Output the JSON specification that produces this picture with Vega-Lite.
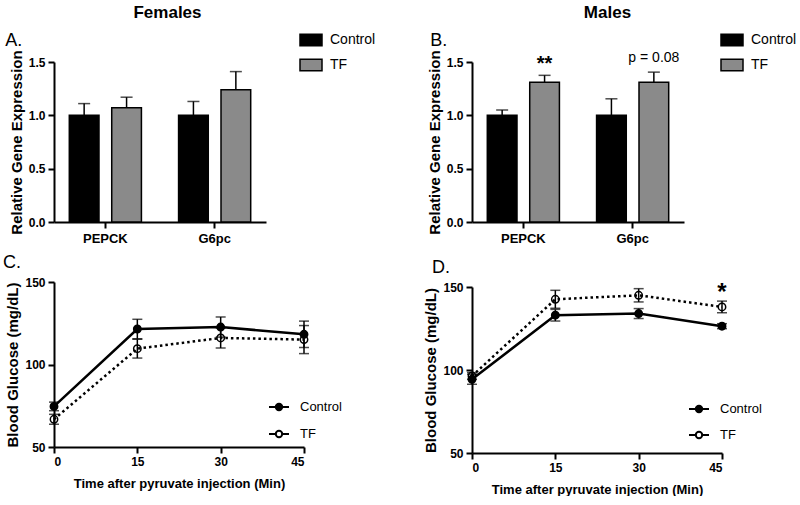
{
  "$schema": "https://vega.github.io/schema/vega-lite/v6.json",
  "background": "white",
  "padding": {"left": 2, "top": 4, "right": 0, "bottom": 0},
  "config": {
    "font": "Liberation Sans",
    "view": {"stroke": null},
    "axis": {"domainColor": "black", "domainWidth": 2, "tickColor": "black", "tickWidth": 2, "tickSize": 6, "labelColor": "black", "labelFontWeight": "bold", "labelFontSize": 12, "titleFontWeight": "bold", "titleFontSize": 13, "titleColor": "black", "grid": false, "labelPadding": 3, "titlePadding": 8},
    "axisY": {"titleFontSize": 15, "titlePadding": 4},
    "legend": {"labelFontSize": 14, "labelColor": "black", "padding": 0},
    "title": {"color": "black"}
  },
  "resolve": {"scale": {"fill": "independent"}, "legend": {"fill": "independent"}},
  "spacing": 47,
  "hconcat": [
    {
      "title": {"text": "Females", "anchor": "middle", "fontSize": 17, "fontWeight": "bold", "offset": 6, "dx": -22},
      "spacing": 9,
      "resolve": {"scale": {"fill": "independent"}, "legend": {"fill": "independent"}},
      "vconcat": [
        {
          "title": {"text": "A.", "anchor": "start", "frame": "bounds", "fontSize": 18, "fontWeight": "normal", "offset": -22, "dx": -4},
          "width": 212,
          "height": 160,
          "data": {"values": [
            {"gene": "PEPCK", "group": "Control", "mean": 1.0, "upper": 1.11},
            {"gene": "PEPCK", "group": "TF", "mean": 1.07, "upper": 1.17},
            {"gene": "G6pc", "group": "Control", "mean": 1.0, "upper": 1.13},
            {"gene": "G6pc", "group": "TF", "mean": 1.24, "upper": 1.41}
          ]},
          "encoding": {
            "x": {"field": "gene", "type": "nominal", "sort": ["PEPCK", "G6pc"], "scale": {"paddingInner": 0.34, "paddingOuter": 0.14}, "axis": {"title": null, "labelAngle": 0, "labelFontSize": 13, "labelPadding": 4}},
            "xOffset": {"field": "group", "type": "nominal", "sort": ["Control", "TF"], "scale": {"paddingInner": 0.3, "paddingOuter": 0}}
          },
          "layer": [
            {
              "mark": {"type": "bar", "stroke": "black", "strokeWidth": 1.5},
              "encoding": {
                "y": {"field": "mean", "type": "quantitative", "scale": {"domain": [0, 1.5], "padding": 0, "nice": false}, "axis": {"title": "Relative Gene Expression", "values": [0, 0.5, 1, 1.5], "format": ".1f"}},
                "fill": {"field": "group", "type": "nominal", "scale": {"domain": ["Control", "TF"], "range": ["black", "#8a8a8a"]}, "legend": {"title": null, "orient": "none", "legendX": 245, "legendY": -34, "symbolType": "M-1,-0.52H1V0.52H-1Z", "symbolSize": 484, "symbolStrokeColor": "black", "symbolStrokeWidth": 1.5, "labelOffset": 7, "rowPadding": 4}}
              }
            },
            {
              "mark": {"type": "rule", "color": "black", "strokeWidth": 1.5},
              "encoding": {"y": {"field": "mean", "type": "quantitative", "title": "Relative Gene Expression"}, "y2": {"field": "upper"}}
            },
            {
              "mark": {"type": "tick", "orient": "horizontal", "size": 12, "thickness": 1.5, "color": "black"},
              "encoding": {"y": {"field": "upper", "type": "quantitative", "title": "Relative Gene Expression"}}
            }
          ]
        },
        {
          "title": {"text": "C.", "anchor": "start", "frame": "bounds", "fontSize": 18, "fontWeight": "normal", "offset": 4, "dx": -3},
          "width": 250,
          "height": 165,
          "data": {"values": [
            {"t": 0, "group": "Control", "mean": 74.6, "lo": 72.0, "hi": 77.2},
            {"t": 15, "group": "Control", "mean": 121.5, "lo": 115.6, "hi": 127.4},
            {"t": 30, "group": "Control", "mean": 122.7, "lo": 116.6, "hi": 128.8},
            {"t": 45, "group": "Control", "mean": 118.3, "lo": 110.3, "hi": 126.3},
            {"t": 0, "group": "TF", "mean": 66.8, "lo": 63.8, "hi": 69.8},
            {"t": 15, "group": "TF", "mean": 109.6, "lo": 103.9, "hi": 115.3},
            {"t": 30, "group": "TF", "mean": 116.1, "lo": 110.0, "hi": 122.2},
            {"t": 45, "group": "TF", "mean": 115.1, "lo": 106.6, "hi": 123.6}
          ]},
          "encoding": {
            "x": {"field": "t", "type": "quantitative", "scale": {"domain": [0, 45], "nice": false, "padding": 0}, "axis": {"values": [0, 15, 30, 45], "title": "Time after pyruvate injection (Min)", "titlePadding": 10}}
          },
          "layer": [
            {
              "mark": {"type": "rule", "color": "black", "strokeWidth": 1.5},
              "encoding": {"y": {"field": "lo", "type": "quantitative", "scale": {"domain": [50, 150], "padding": 0, "nice": false}, "axis": {"title": "Blood Glucose (mg/dL)", "values": [50, 100, 150]}}, "y2": {"field": "hi"}}
            },
            {
              "mark": {"type": "tick", "orient": "horizontal", "size": 10, "thickness": 1.5, "color": "black"},
              "encoding": {"y": {"field": "lo", "type": "quantitative", "title": "Blood Glucose (mg/dL)"}}
            },
            {
              "mark": {"type": "tick", "orient": "horizontal", "size": 10, "thickness": 1.5, "color": "black"},
              "encoding": {"y": {"field": "hi", "type": "quantitative", "title": "Blood Glucose (mg/dL)"}}
            },
            {
              "transform": [{"filter": "datum.group === 'Control'"}],
              "mark": {"type": "line", "color": "black", "strokeWidth": 2.5},
              "encoding": {"y": {"field": "mean", "type": "quantitative", "title": "Blood Glucose (mg/dL)"}}
            },
            {
              "transform": [{"filter": "datum.group === 'TF'"}],
              "mark": {"type": "line", "color": "black", "strokeWidth": 2.5, "strokeDash": [2.5, 3]},
              "encoding": {"y": {"field": "mean", "type": "quantitative", "title": "Blood Glucose (mg/dL)"}}
            },
            {
              "mark": {"type": "point", "shape": "circle", "filled": true, "size": 55, "stroke": "black", "strokeWidth": 1.5, "opacity": 1},
              "encoding": {
                "y": {"field": "mean", "type": "quantitative", "title": "Blood Glucose (mg/dL)"},
                "fill": {"field": "group", "type": "nominal", "scale": {"domain": ["Control", "TF"], "range": ["black", "transparent"]}, "legend": {"title": null, "orient": "none", "legendX": 214, "legendY": 114, "symbolType": "M-1,0H-0.32M0.32,0H1M0.32,0A0.32,0.32,0,1,1,-0.32,0A0.32,0.32,0,1,1,0.32,0", "symbolSize": 400, "symbolStrokeColor": "black", "symbolStrokeWidth": 2, "labelOffset": 10, "labelFontSize": 13, "rowPadding": 8, "encode": {"symbols": {"update": {"strokeDash": {"signal": "datum.value === 'TF' ? [2, 2] : [1, 0]"}}}}}}
              }
            }
          ]
        }
      ]
    },
    {
      "title": {"text": "Males", "anchor": "middle", "fontSize": 17, "fontWeight": "bold", "offset": 6, "dx": -3},
      "spacing": 14,
      "resolve": {"scale": {"fill": "independent"}, "legend": {"fill": "independent"}},
      "vconcat": [
        {
          "title": {"text": "B.", "anchor": "start", "frame": "bounds", "fontSize": 18, "fontWeight": "normal", "offset": -22, "dx": 3},
          "width": 212,
          "height": 160,
          "data": {"values": [
            {"gene": "PEPCK", "group": "Control", "mean": 1.0, "upper": 1.05},
            {"gene": "PEPCK", "group": "TF", "mean": 1.31, "upper": 1.375},
            {"gene": "G6pc", "group": "Control", "mean": 1.0, "upper": 1.155},
            {"gene": "G6pc", "group": "TF", "mean": 1.31, "upper": 1.405}
          ]},
          "encoding": {
            "x": {"field": "gene", "type": "nominal", "sort": ["PEPCK", "G6pc"], "scale": {"paddingInner": 0.34, "paddingOuter": 0.14}, "axis": {"title": null, "labelAngle": 0, "labelFontSize": 13, "labelPadding": 4}},
            "xOffset": {"field": "group", "type": "nominal", "sort": ["Control", "TF"], "scale": {"paddingInner": 0.3, "paddingOuter": 0}}
          },
          "layer": [
            {
              "mark": {"type": "bar", "stroke": "black", "strokeWidth": 1.5},
              "encoding": {
                "y": {"field": "mean", "type": "quantitative", "scale": {"domain": [0, 1.5], "padding": 0, "nice": false}, "axis": {"title": "Relative Gene Expression", "values": [0, 0.5, 1, 1.5], "format": ".1f"}},
                "fill": {"field": "group", "type": "nominal", "scale": {"domain": ["Control", "TF"], "range": ["black", "#8a8a8a"]}, "legend": {"title": null, "orient": "none", "legendX": 248, "legendY": -34, "symbolType": "M-1,-0.52H1V0.52H-1Z", "symbolSize": 484, "symbolStrokeColor": "black", "symbolStrokeWidth": 1.5, "labelOffset": 7, "rowPadding": 4}}
              }
            },
            {
              "mark": {"type": "rule", "color": "black", "strokeWidth": 1.5},
              "encoding": {"y": {"field": "mean", "type": "quantitative", "title": "Relative Gene Expression"}, "y2": {"field": "upper"}}
            },
            {
              "mark": {"type": "tick", "orient": "horizontal", "size": 12, "thickness": 1.5, "color": "black"},
              "encoding": {"y": {"field": "upper", "type": "quantitative", "title": "Relative Gene Expression"}}
            },
            {
              "data": {"values": [{"gene": "PEPCK", "group": "TF", "label": "**", "y": 1.425}]},
              "mark": {"type": "text", "fontSize": 20, "fontWeight": "bold", "baseline": "alphabetic", "color": "black"},
              "encoding": {"y": {"field": "y", "type": "quantitative", "title": "Relative Gene Expression"}, "text": {"field": "label"}}
            },
            {
              "data": {"values": [{"gene": "G6pc", "group": "TF", "label": "p = 0.08", "y": 1.5}]},
              "mark": {"type": "text", "fontSize": 14, "baseline": "alphabetic", "color": "black"},
              "encoding": {"y": {"field": "y", "type": "quantitative", "title": "Relative Gene Expression"}, "text": {"field": "label"}}
            }
          ]
        },
        {
          "title": {"text": "D.", "anchor": "start", "frame": "bounds", "fontSize": 18, "fontWeight": "normal", "offset": 4, "dx": 8},
          "width": 250,
          "height": 166,
          "data": {"values": [
            {"t": 0, "group": "Control", "mean": 94.4, "lo": 91.4, "hi": 97.4},
            {"t": 15, "group": "Control", "mean": 133.0, "lo": 129.5, "hi": 136.5},
            {"t": 30, "group": "Control", "mean": 134.0, "lo": 131.0, "hi": 137.0},
            {"t": 45, "group": "Control", "mean": 126.4, "lo": 124.9, "hi": 127.9},
            {"t": 0, "group": "TF", "mean": 96.4, "lo": 94.4, "hi": 98.4},
            {"t": 15, "group": "TF", "mean": 142.6, "lo": 137.2, "hi": 148.0},
            {"t": 30, "group": "TF", "mean": 145.0, "lo": 141.0, "hi": 149.0},
            {"t": 45, "group": "TF", "mean": 138.0, "lo": 134.5, "hi": 141.5}
          ]},
          "encoding": {
            "x": {"field": "t", "type": "quantitative", "scale": {"domain": [0, 45], "nice": false, "padding": 0}, "axis": {"values": [0, 15, 30, 45], "title": "Time after pyruvate injection (Min)", "titlePadding": 10}}
          },
          "layer": [
            {
              "mark": {"type": "rule", "color": "black", "strokeWidth": 1.5},
              "encoding": {"y": {"field": "lo", "type": "quantitative", "scale": {"domain": [50, 150], "padding": 0, "nice": false}, "axis": {"title": "Blood Glucose (mg/dL)", "values": [50, 100, 150]}}, "y2": {"field": "hi"}}
            },
            {
              "mark": {"type": "tick", "orient": "horizontal", "size": 10, "thickness": 1.5, "color": "black"},
              "encoding": {"y": {"field": "lo", "type": "quantitative", "title": "Blood Glucose (mg/dL)"}}
            },
            {
              "mark": {"type": "tick", "orient": "horizontal", "size": 10, "thickness": 1.5, "color": "black"},
              "encoding": {"y": {"field": "hi", "type": "quantitative", "title": "Blood Glucose (mg/dL)"}}
            },
            {
              "transform": [{"filter": "datum.group === 'Control'"}],
              "mark": {"type": "line", "color": "black", "strokeWidth": 2.5},
              "encoding": {"y": {"field": "mean", "type": "quantitative", "title": "Blood Glucose (mg/dL)"}}
            },
            {
              "transform": [{"filter": "datum.group === 'TF'"}],
              "mark": {"type": "line", "color": "black", "strokeWidth": 2.5, "strokeDash": [2.5, 3]},
              "encoding": {"y": {"field": "mean", "type": "quantitative", "title": "Blood Glucose (mg/dL)"}}
            },
            {
              "mark": {"type": "point", "shape": "circle", "filled": true, "size": 55, "stroke": "black", "strokeWidth": 1.5, "opacity": 1},
              "encoding": {
                "y": {"field": "mean", "type": "quantitative", "title": "Blood Glucose (mg/dL)"},
                "fill": {"field": "group", "type": "nominal", "scale": {"domain": ["Control", "TF"], "range": ["black", "transparent"]}, "legend": {"title": null, "orient": "none", "legendX": 216, "legendY": 111, "symbolType": "M-1,0H-0.32M0.32,0H1M0.32,0A0.32,0.32,0,1,1,-0.32,0A0.32,0.32,0,1,1,0.32,0", "symbolSize": 400, "symbolStrokeColor": "black", "symbolStrokeWidth": 2, "labelOffset": 10, "labelFontSize": 13, "rowPadding": 7, "encode": {"symbols": {"update": {"strokeDash": {"signal": "datum.value === 'TF' ? [2, 2] : [1, 0]"}}}}}}
              }
            },
            {
              "data": {"values": [{"t": 45, "label": "*", "y": 142}]},
              "mark": {"type": "text", "fontSize": 24, "fontWeight": "bold", "baseline": "alphabetic", "color": "black"},
              "encoding": {"y": {"field": "y", "type": "quantitative", "title": "Blood Glucose (mg/dL)"}, "text": {"field": "label"}}
            }
          ]
        }
      ]
    }
  ]
}
